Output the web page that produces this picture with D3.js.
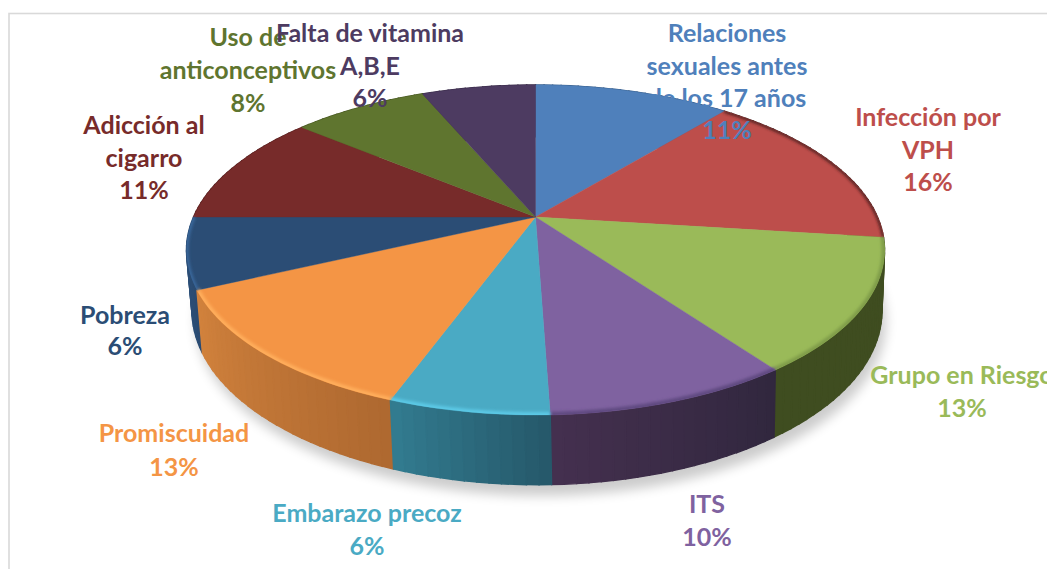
<!DOCTYPE html>
<html><head><meta charset="utf-8">
<script src="https://cdn.jsdelivr.net/npm/d3@7"></script>
<style>html,body{margin:0;padding:0;background:#fff;overflow:hidden}svg{display:block}text{font-family:Lato,"Open Sans",sans-serif;font-weight:700}</style>
</head><body><div id="c"></div>
<script>
// Data
const categoryLines = [["Relaciones","sexuales antes","de los 17 años"],["Infección por","VPH"],["Grupo en Riesgo"],["ITS"],["Embarazo precoz"],["Promiscuidad"],["Pobreza"],["Adicción al","cigarro"],["Uso de","anticonceptivos"],["Falta de vitamina","A,B,E"]];
const percentLabels = ["11%","16%","13%","10%","6%","13%","6%","11%","8%","6%"];
const sliceShares = [11,16,13,9.45,6.15,12.45,6.95,11,7.6,6.4]; // read from the drawn slice boundaries
// Style / layout
const topColors  = ["#4f80bb","#bd4e4b","#9aba59","#7f62a0","#4aaac4","#f49545","#2b4d75","#772b2a","#5f752f","#4d3b61"];
const wallLeft   = ["#3a5f8c","#4a1b1a","#3f4d20","#44304f","#337c90","#d2823d","#2f5580","#551f1e","#44531f","#372a46"];
const wallRight  = ["#3a5f8c","#3a1514","#3f4d20","#31273e","#25586a","#ae6830","#2a4b72","#551f1e","#44531f","#372a46"];
const rimColors  = ["#4f80bb","#4a1f1e","#7f9c48","#5f4880","#5cc9e6","#ffae5c","#3a699e","#772b2a","#5f752f","#4d3b61"];
const rimWidths  = [0,3,6,6,6,6,4,0,0,0];
const labelCenterX = [727,928,962,707,367,174,125,144,248,370];
const labelBaselines = [[42,75,107,139],[126,159,191],[384,417],[513,546],[522,555],[442,476],[324,355],[134,167,199],[46,79,112],[42,75,107]];

const W=1047,H=569;
const topDisc={cx:535.5,cy:217,rx:342,ry:158.4,k:0.2};
const baseDisc={cx:537,cy:276,rx:338,ry:167,k:0.2};
const project=(d,a)=>{const s=Math.sin(a),c=Math.cos(a),q=1+d.k*c;return [d.cx+d.rx*s/q,d.cy-d.ry*c/q];};
const arcs=d3.pie().sort(null)(sliceShares);
const arcPts=(d,a0,a1,n=60)=>d3.range(n+1).map(i=>project(d,a0+(a1-a0)*i/n));
const line=d3.line();
const svg=d3.select("#c").append("svg").attr("width",W).attr("height",H).attr("viewBox",`0 0 ${W} ${H}`);
const defs=svg.append("defs");
defs.append("filter").attr("id","soft").attr("x","-10%").attr("y","-10%").attr("width","120%").attr("height","120%").append("feGaussianBlur").attr("stdDeviation",6);
defs.append("filter").attr("id","rimBlur").attr("filterUnits","userSpaceOnUse").attr("x",0).attr("y",0).attr("width",W).attr("height",H).append("feGaussianBlur").attr("stdDeviation",1.8);
defs.append("clipPath").attr("id","topClip").append("path").attr("d",line(arcPts(topDisc,0,2*Math.PI,240))+"Z");

// frame
svg.append("rect").attr("x",9).attr("y",13.5).attr("width",W+20).attr("height",H+20).attr("fill","#fff").attr("stroke","#d9d9d9").attr("stroke-width",1.6);

// shadow beneath the pie
svg.append("path").attr("d",line(arcPts(baseDisc,0,2*Math.PI,240))+"Z").attr("transform","translate(4,11)").attr("fill","#000").attr("opacity",0.2).attr("filter","url(#soft)");

// side wall: swept quads, far ones first
const quads=[];
arcs.forEach((s,i)=>{
  const n=Math.max(6,Math.round((s.endAngle-s.startAngle)/0.03));
  d3.range(n).forEach(j=>{
    const a0=s.startAngle+(s.endAngle-s.startAngle)*j/n,a1=s.startAngle+(s.endAngle-s.startAngle)*(j+1)/n;
    quads.push({i,t:(j+.5)/n,a0,a1});
  });
});
quads.sort((p,q)=>Math.cos((q.a0+q.a1)/2)-Math.cos((p.a0+p.a1)/2));
const wallShade=d=>d3.interpolateRgb(wallRight[d.i],wallLeft[d.i])(d.t);
svg.append("g").selectAll("path").data(quads).join("path")
 .attr("d",d=>{const a=project(topDisc,d.a0),b=project(topDisc,d.a1),c=project(baseDisc,d.a1),e=project(baseDisc,d.a0);return line([a,b,c,e])+"Z";})
 .attr("fill",wallShade).attr("stroke",wallShade).attr("stroke-width",1.4);

// top surface
svg.append("g").selectAll("path").data(arcs).join("path")
 .attr("d",s=>line([[topDisc.cx,topDisc.cy],...arcPts(topDisc,s.startAngle,s.endAngle)])+"Z")
 .attr("fill",(s,i)=>topColors[i]).attr("stroke",(s,i)=>topColors[i]).attr("stroke-width",0.4);

// bevel along the rim
svg.append("g").attr("clip-path","url(#topClip)").selectAll("path").data(arcs).join("path")
 .attr("d",s=>line(arcPts(topDisc,s.startAngle,s.endAngle)))
 .attr("fill","none").attr("stroke",(s,i)=>rimColors[i]).attr("stroke-width",(s,i)=>rimWidths[i]).attr("filter","url(#rimBlur)");

// labels
const lg=svg.append("g").attr("text-anchor","middle").attr("font-size",25);
categoryLines.forEach((c,i)=>{
  const t=lg.append("text").attr("fill",topColors[i]);
  [...c,percentLabels[i]].forEach((l,j)=>t.append("tspan").attr("x",labelCenterX[i]).attr("y",labelBaselines[i][j]).text(l));
});
</script></body></html>
